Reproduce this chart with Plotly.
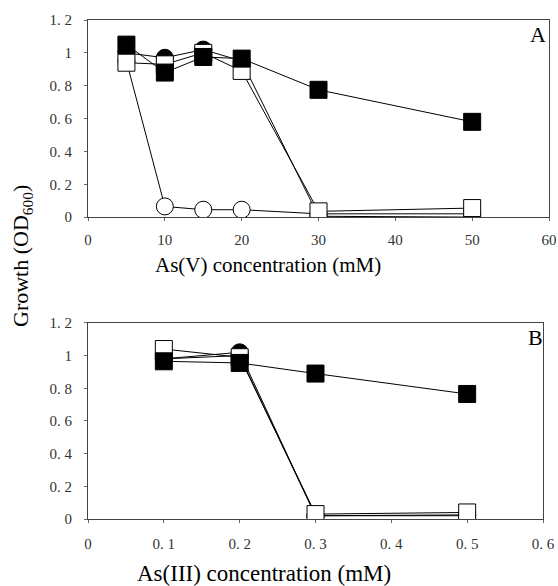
import plotly.graph_objects as go

# Panel A: As(V)
xA = [5, 10, 15, 20, 30, 50]
A_open_circle = [0.95, 0.065, 0.045, 0.045, 0.02, 0.02]
A_filled_circle = [1.00, 0.97, 1.02, 0.95, 0.005, 0.0]
A_open_square = [0.94, 0.93, 1.00, 0.89, 0.035, 0.055]
A_filled_square = [1.05, 0.88, 0.975, 0.965, 0.775, 0.58]

# Panel B: As(III)
xB = [0.1, 0.2, 0.3, 0.5]
B_open_circle = [0.98, 1.00, 0.02, 0.025]
B_filled_circle = [0.98, 1.02, 0.02, 0.02]
B_open_square = [1.04, 0.99, 0.03, 0.04]
B_filled_square = [0.965, 0.955, 0.89, 0.765]

y_tickvals = [0, 0.2, 0.4, 0.6, 0.8, 1.0, 1.2]
y_ticktext = ["0", "0. 2", "0. 4", "0. 6", "0. 8", "1", "1. 2"]
xA_tickvals = [0, 10, 20, 30, 40, 50, 60]
xA_ticktext = ["0", "10", "20", "30", "40", "50", "60"]
xB_tickvals = [0, 0.1, 0.2, 0.3, 0.4, 0.5, 0.6]
xB_ticktext = ["0", "0. 1", "0. 2", "0. 3", "0. 4", "0. 5", "0. 6"]

styles = [
    ("circle", "white"),
    ("circle", "black"),
    ("square", "white"),
    ("square", "black"),
]

fig = go.Figure()
for (sym, col), ys in zip(styles, [A_open_circle, A_filled_circle, A_open_square, A_filled_square]):
    fig.add_trace(go.Scatter(x=xA, y=ys, mode="lines+markers", xaxis="x", yaxis="y",
                             line=dict(color="black", width=1),
                             marker=dict(symbol=sym, size=17, color=col, line=dict(color="black", width=1)),
                             showlegend=False))
for (sym, col), ys in zip(styles, [B_open_circle, B_filled_circle, B_open_square, B_filled_square]):
    fig.add_trace(go.Scatter(x=xB, y=ys, mode="lines+markers", xaxis="x2", yaxis="y2",
                             line=dict(color="black", width=1),
                             marker=dict(symbol=sym, size=17, color=col, line=dict(color="black", width=1)),
                             showlegend=False))

tickfont = dict(family="Liberation Serif", size=15, color="#333")
axcommon = dict(showline=True, linecolor="#444", linewidth=1, mirror=True, showgrid=False,
                zeroline=False, ticks="outside", ticklen=3, tickcolor="#666", tickfont=tickfont,
                automargin=False)

L, T, W, H = 88, 20, 461, 499


def px(xp):
    return (xp - L) / W


def py(yp):
    return (T + H - yp) / H


serif = "Liberation Serif"
fig.update_layout(
    width=558, height=586,
    margin=dict(l=88, r=9, t=20, b=67),
    plot_bgcolor="white", paper_bgcolor="white",
    xaxis=dict(domain=[0, 1], range=[0, 60], tickvals=xA_tickvals, ticktext=xA_ticktext,
               anchor="y", ticklabelstandoff=6, **axcommon),
    yaxis=dict(domain=[0.605, 1], range=[0, 1.2], tickvals=y_tickvals, ticktext=y_ticktext,
               anchor="x", ticklabelstandoff=9, **axcommon),
    xaxis2=dict(domain=[0, 0.987], range=[0, 0.6], tickvals=xB_tickvals, ticktext=xB_ticktext,
                anchor="y2", ticklabelstandoff=8, **axcommon),
    yaxis2=dict(domain=[0, 0.393], range=[0, 1.2], tickvals=y_tickvals, ticktext=y_ticktext,
                anchor="x2", ticklabelstandoff=9, **axcommon),
    annotations=[
        dict(text="As(V) concentration (mM)", xref="paper", yref="paper", x=px(268), y=py(265),
             xanchor="center", yanchor="middle", showarrow=False,
             font=dict(family=serif, size=21, color="black")),
        dict(text="As(III) concentration (mM)", xref="paper", yref="paper", x=px(264), y=py(573),
             xanchor="center", yanchor="middle", showarrow=False,
             font=dict(family=serif, size=23, color="black")),
        dict(text="Growth (OD<sub>600</sub>)", xref="paper", yref="paper", x=px(22), y=py(256),
             xanchor="center", yanchor="middle", textangle=-90, showarrow=False,
             font=dict(family=serif, size=22, color="black")),
        dict(text="A", xref="paper", yref="paper", x=px(538), y=py(34),
             xanchor="center", yanchor="middle", showarrow=False,
             font=dict(family=serif, size=22, color="black")),
        dict(text="B", xref="paper", yref="paper", x=px(535), y=py(337),
             xanchor="center", yanchor="middle", showarrow=False,
             font=dict(family=serif, size=22, color="black")),
    ],
)

fig.write_html("out.html", config={"displayModeBar": False},
               post_script="document.body.style.margin='0';document.body.style.overflow='hidden';")
